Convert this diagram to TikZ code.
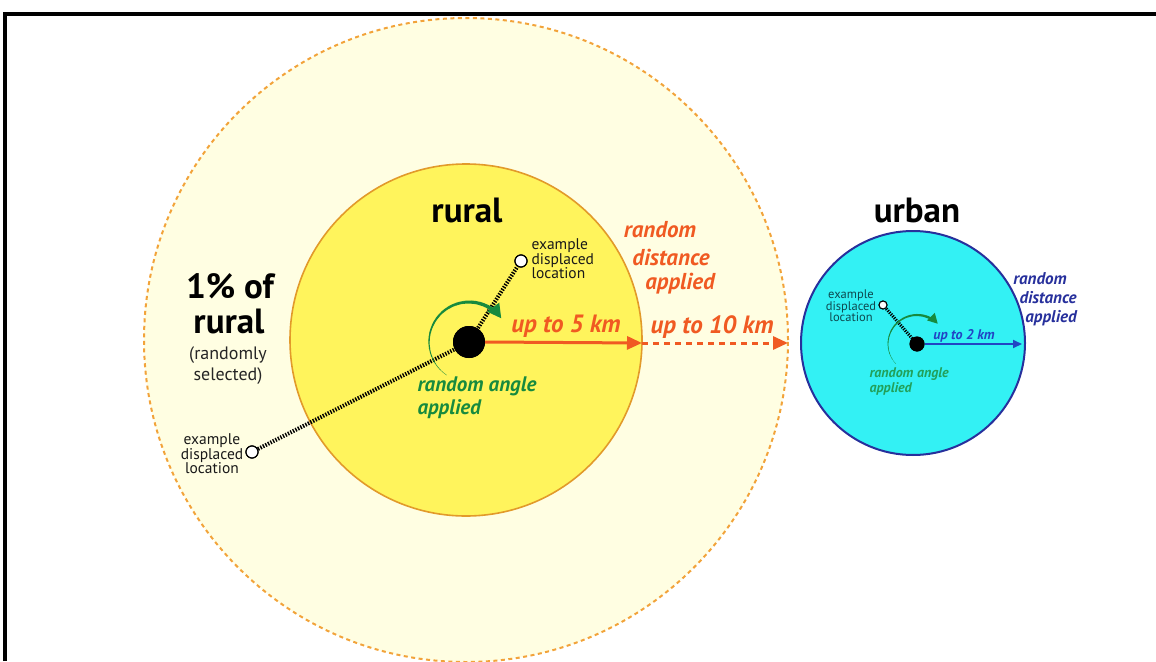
\documentclass[tikz,border=0pt]{standalone}
\usepackage{fontspec}
\setmainfont{PT Sans}
\usetikzlibrary{arrows.meta}
\definecolor{paleY}{HTML}{FFFEE2}
\definecolor{ringO}{HTML}{F2A33A}
\definecolor{ruralY}{HTML}{FFF45C}
\definecolor{ruralEdge}{HTML}{E29A2A}
\definecolor{orangeT}{HTML}{F05A22}
\definecolor{greenA}{HTML}{178A3E}
\definecolor{cyanF}{HTML}{33F1F4}
\definecolor{navy}{HTML}{27309C}
\definecolor{blueA}{HTML}{2244C4}
\definecolor{urbGreen}{HTML}{22A05A}
\definecolor{tealT}{HTML}{0E4A50}
\begin{document}
\begin{tikzpicture}[x=1pt,y=1pt,
  dotline/.style={line width=4, dash pattern=on 1.4 off 1.4, black},
  dotlinesmall/.style={line width=3.2, dash pattern=on 1.2 off 1.2, black},
  bigdot/.style={circle, fill=black, inner sep=0},
  locdot/.style={circle, draw=black, fill=white, line width=1.2, inner sep=0},
  bigtitle/.style={font=\fontsize{35}{36}\selectfont\bfseries, text=black},
  smalltxt/.style={font=\fontsize{15.5}{14.5}\selectfont, align=center, text=black!90},
  orangelbl/.style={font=\fontsize{23}{24}\selectfont\bfseries\itshape, text=orangeT},
  kmlbl/.style={font=\fontsize{25}{26}\selectfont\bfseries\itshape, text=orangeT},
  greenlbl/.style={font=\fontsize{21}{23}\selectfont\bfseries\itshape, text=greenA, align=left},
  navylbl/.style={font=\fontsize{17}{19}\selectfont\bfseries\itshape, text=navy},
  ugreenlbl/.style={font=\fontsize{14}{15}\selectfont\bfseries\itshape, text=urbGreen, align=left},
  utxt/.style={font=\fontsize{12.5}{11.5}\selectfont, align=center, text=tealT}
]
\useasboundingbox (0,0) rectangle (1156,-661);
% frame
\draw[line width=4, line join=miter] (4.7,-661) -- (4.7,-13.7) -- (1156,-13.7);

% rural circles
\coordinate (rc) at (466,-340);
\fill[paleY] (rc) circle[radius=322];
\draw[ringO, line width=2, dash pattern=on 4 off 3.5] (rc) circle[radius=322];
\draw[ruralEdge, line width=1.6, fill=ruralY] (rc) circle[radius=176];

% urban circle
\coordinate (uc) at (913,-343);
\draw[navy, line width=2, fill=cyanF] (uc) circle[radius=112];

% rural dot and displaced locations
\node[bigdot, minimum size=32] (rdot) at (469,-342) {};
\node[locdot, minimum size=12] (rloc1) at (521,-261) {};
\node[locdot, minimum size=12] (rloc2) at (252,-452) {};
\draw[dotline] (rdot.center) -- (rloc1);
\draw[dotline] (rdot.center) -- (rloc2);
\node[bigdot, minimum size=32] at (rdot) {};
\node[locdot, minimum size=12] at (rloc1) {};
\node[locdot, minimum size=12] at (rloc2) {};

% urban dot and displaced location
\node[bigdot, minimum size=15] (udot) at (917,-344) {};
\node[locdot, minimum size=8, line width=1] (uloc) at (883,-305) {};
\draw[dotlinesmall] (udot.center) -- (uloc);
\node[bigdot, minimum size=15] at (udot) {};
\node[locdot, minimum size=8, line width=1] at (uloc) {};

% rural distance arrows
\coordinate (rin) at (642,-343);
\coordinate (rout) at (788,-343);
\draw[orangeT, line width=3, -{Triangle[length=15,width=13]}] (rdot.east) -- (rin);
\draw[orangeT, line width=3, dash pattern=on 6 off 5, -{Triangle[length=15,width=13]}] (rin) -- (rout);

% urban distance arrow
\coordinate (uin) at (1022,-344);
\draw[blueA, line width=2, -{Triangle[length=9,width=8]}] (udot.east) -- (uin);

% rural tapered angle arrow
\foreach \i in {0,...,15}{
  \pgfmathsetmacro\sa{236-\i*11.5}
  \pgfmathsetmacro\ea{236-(\i+1)*11.5-0.6}
  \pgfmathsetmacro\lw{0.3+\i*0.22}
  \draw[greenA, line width=\lw] ([shift={(\sa:40)}]rdot.center) arc[start angle=\sa, end angle=\ea, radius=40];
}
\draw[greenA, line width=3.6, -{Triangle[length=14,width=14]}] ([shift={(53:40)}]rdot.center) arc[start angle=53, end angle=36, radius=40];

% urban tapered angle arrow
\foreach \i in {0,...,13}{
  \pgfmathsetmacro\sa{223-\i*11.5}
  \pgfmathsetmacro\ea{223-(\i+1)*11.5-0.6}
  \pgfmathsetmacro\lw{0.2+\i*0.17}
  \draw[greenA, line width=\lw] ([shift={(\sa:29)}]udot.center) arc[start angle=\sa, end angle=\ea, radius=29];
}
\draw[greenA, line width=2.6, -{Triangle[length=10,width=10]}] ([shift={(62:29)}]udot.center) arc[start angle=62, end angle=44, radius=29];

% titles
\node[bigtitle] (trural) at (467,-210) {rural};
\node[bigtitle] (turban) at (917,-210) {urban};
\node[bigtitle] (tpct1) at (230,-286) {1\% of};
\node[bigtitle] (tpct2) at (229,-321) {rural};
\node[font=\fontsize{18}{21}\selectfont, align=center, text=black!85] (tsel) at (228,-366) {(randomly\\selected)};

% rural labels
\node[smalltxt] (tex2) at (212,-454) {example\\displaced\\location};
\node[smalltxt, align=left, anchor=west] (tex1) at (528,-259) {example\\displaced\\location};
\node[orangelbl] (rd1) at (660,-230) {random};
\node[orangelbl] (rd2) at (671,-257) {distance};
\node[orangelbl] (rd3) at (680,-284) {applied};
\node[kmlbl] (k5) at (566,-326) {up to 5 km};
\node[kmlbl] (k10) at (712,-327) {up to 10 km};
\node[greenlbl, anchor=north west] (ga) at (414,-373) {random angle\\applied};

% urban labels
\node[utxt] (uex) at (851,-306) {example\\displaced\\location};
\node[font=\fontsize{14}{15}\selectfont\bfseries\itshape, text=blueA] (k2) at (964,-336) {up to 2 km};
\node[navylbl] (ud1) at (1040,-279) {random};
\node[navylbl] (ud2) at (1048,-298) {distance};
\node[navylbl] (ud3) at (1051,-318) {applied};
\node[ugreenlbl, anchor=north west] (uga) at (866,-364) {random angle\\applied};
\end{tikzpicture}
\end{document}
